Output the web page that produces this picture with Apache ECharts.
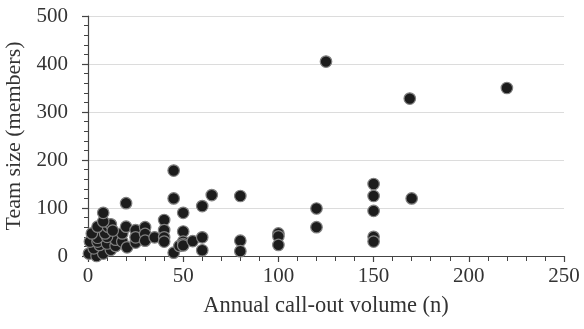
<!DOCTYPE html>
<html>
<head>
<meta charset="utf-8">
<script src="https://cdn.jsdelivr.net/npm/echarts@6/dist/echarts.min.js"></script>
<style>
  html, body { margin: 0; padding: 0; background: #fff; }
  #chart { width: 584px; height: 329px; }
</style>
</head>
<body>
<div id="chart"></div>
<script>
// Annual call-out volume (n) of each team
const calloutVolume = [
  0.5, 4.5, 8, 12, 3, 6, 1, 5, 10, 14.5, 14.5, 18, 20.5, 25, 5, 10,
  2, 9, 18, 5, 10.5, 12, 13, 8, 8, 20, 20, 25, 25, 30, 30, 30, 35,
  40, 40, 40, 40, 45, 45, 45, 48, 50, 50, 50, 50, 50, 55, 60, 60, 60,
  65, 80, 80, 80, 100, 100, 100, 120, 120, 125, 150, 150, 150, 150, 150,
  169, 170, 220
];
// Team size (members) of each team
const teamSize = [
  5, 0, 5, 13, 16, 23, 30, 30, 26, 21, 34, 30, 18, 28, 38, 40,
  47, 47, 47, 61, 61, 66, 53, 72, 90, 61, 110, 54, 39, 60, 46, 32, 39,
  75, 54, 39, 30, 178, 120, 7, 21, 90, 51, 30, 25, 22, 31, 104, 39, 12,
  127, 125, 32, 10, 47, 41, 23, 99, 60, 405, 150, 125, 94, 40, 30,
  328, 120, 350
];
const xTicks = { min: 0, max: 250, interval: 50 };
const yTicks = { min: 0, max: 500, interval: 100 };

const points = calloutVolume.map((x, i) => [x, teamSize[i]]);

const chart = echarts.init(document.getElementById('chart'), null, { renderer: 'canvas' });
const serif = '"Liberation Serif", "Times New Roman", serif';
const axisColor = '#444';
const textColor = '#333';

chart.setOption({
  animation: false,
  backgroundColor: '#fff',
  grid: { left: 88, right: 20, top: 16, bottom: 73, containLabel: false, outerBoundsMode: 'none' },
  xAxis: {
    type: 'value',
    min: xTicks.min, max: xTicks.max, interval: xTicks.interval,
    name: 'Annual call-out volume (n)',
    nameLocation: 'middle',
    nameGap: 39,
    nameTextStyle: { fontFamily: serif, fontSize: 22.5, color: textColor },
    axisLine: { onZero: false, lineStyle: { color: axisColor, width: 1.2 } },
    axisTick: { show: true, length: 6, lineStyle: { color: axisColor, width: 1.2 } },
    minorTick: { show: true, splitNumber: 5, length: 5, lineStyle: { color: axisColor, width: 1 } },
    axisLabel: { fontFamily: serif, fontSize: 21, color: textColor, margin: 10 },
    splitLine: { show: false }
  },
  yAxis: {
    type: 'value',
    min: yTicks.min, max: yTicks.max, interval: yTicks.interval,
    name: 'Team size (members)',
    nameLocation: 'middle',
    nameGap: 59,
    nameTextStyle: { fontFamily: serif, fontSize: 22, color: textColor },
    axisLine: { show: true, onZero: false, lineStyle: { color: axisColor, width: 1.2 } },
    axisTick: { show: true, length: 6, lineStyle: { color: axisColor, width: 1.2 } },
    minorTick: { show: true, splitNumber: 5, length: 4, lineStyle: { color: axisColor, width: 1 } },
    axisLabel: { fontFamily: serif, fontSize: 21, color: textColor, margin: 20 },
    splitLine: { show: true, lineStyle: { color: '#dcdcdc', width: 1 } }
  },
  series: [{
    type: 'scatter',
    data: points,
    symbol: 'circle',
    symbolSize: 11.5,
    itemStyle: { color: '#1c1c1c', borderColor: '#808080', borderWidth: 1.2, opacity: 1 }
  }]
});
</script>
</body>
</html>
